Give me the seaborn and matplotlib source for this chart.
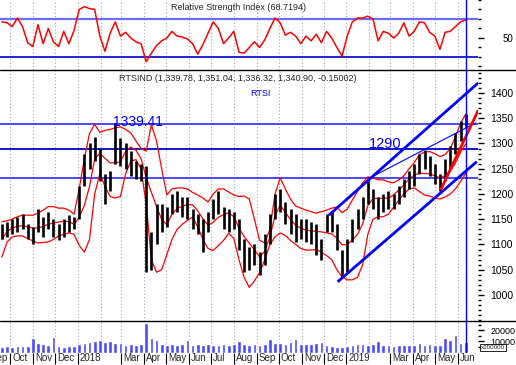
import pandas as pd
import matplotlib
matplotlib.use('Agg')
import matplotlib.pyplot as plt
from matplotlib.lines import Line2D
from matplotlib.ticker import FixedLocator, MultipleLocator
import seaborn as sns

sns.set_style('white')
plt.rcParams['font.family'] = ['Liberation Sans', 'DejaVu Sans']

# Weekly samples (RTSI, Sep 2017 - Jun 2019)
weeks = pd.date_range('2017-09-20', periods=91, freq='7D')

week_high = [1140, 1145, 1150, 1155, 1160, 1140, 1135, 1170, 1155, 1165,
             1150, 1140, 1150, 1158, 1155, 1215, 1280, 1300, 1312, 1290,
             1240, 1245, 1340, 1310, 1300, 1285, 1265, 1260, 1255, 1125,
             1180, 1180, 1175, 1200, 1205, 1195, 1195, 1170, 1160, 1150,
             1165, 1190, 1205, 1175, 1170, 1165, 1150, 1110, 1095, 1100,
             1085, 1120, 1160, 1200, 1210, 1185, 1170, 1160, 1150, 1150,
             1145, 1140, 1110, 1160, 1165, 1140, 1090, 1110, 1150, 1170,
             1195, 1230, 1210, 1195, 1200, 1205, 1200, 1215, 1230, 1245,
             1260, 1280, 1288, 1275, 1260, 1240, 1270, 1295, 1320, 1345, 1358]

week_low = [1110, 1115, 1120, 1125, 1130, 1110, 1100, 1125, 1115, 1130,
            1115, 1108, 1115, 1125, 1130, 1150, 1215, 1250, 1265, 1225,
            1180, 1205, 1260, 1255, 1250, 1235, 1230, 1225, 1045, 1050,
            1100, 1125, 1135, 1160, 1165, 1155, 1150, 1130, 1120, 1085,
            1125, 1150, 1160, 1130, 1125, 1130, 1090, 1045, 1050, 1060,
            1040, 1060, 1100, 1150, 1165, 1140, 1120, 1105, 1110, 1105,
            1100, 1080, 1070, 1125, 1125, 1090, 1035, 1045, 1105, 1130,
            1150, 1180, 1170, 1150, 1165, 1170, 1170, 1180, 1195, 1210,
            1215, 1240, 1250, 1235, 1220, 1205, 1225, 1250, 1280, 1305, 1330]

band_upper = [1145, 1147, 1150, 1155, 1158, 1158, 1158, 1162, 1168, 1175,
              1175, 1172, 1172, 1168, 1160, 1210, 1270, 1320, 1338, 1322,
              1326, 1328, 1331, 1333, 1328, 1321, 1305, 1290, 1285, 1337,
              1305, 1250, 1198, 1210, 1212, 1212, 1210, 1203, 1198, 1192,
              1184, 1200, 1210, 1210, 1204, 1198, 1195, 1196, 1190, 1150,
              1108, 1103, 1130, 1200, 1232, 1210, 1190, 1176, 1172, 1168,
              1165, 1162, 1165, 1168, 1172, 1174, 1163, 1170, 1188, 1205,
              1222, 1234, 1232, 1228, 1228, 1224, 1222, 1228, 1236, 1250,
              1262, 1278, 1283, 1284, 1280, 1274, 1278, 1290, 1313, 1340, 1358]

band_lower = [1075, 1105, 1115, 1117, 1117, 1112, 1107, 1103, 1104, 1105,
              1110, 1117, 1120, 1123, 1120, 1098, 1085, 1110, 1200, 1240,
              1215, 1195, 1192, 1195, 1240, 1265, 1268, 1250, 1180, 1070,
              1045, 1050, 1080, 1110, 1130, 1140, 1148, 1154, 1135, 1110,
              1092, 1088, 1098, 1108, 1122, 1112, 1070, 1035, 1015, 1028,
              1044, 1070, 1100, 1115, 1123, 1118, 1108, 1100, 1092, 1089,
              1089, 1090, 1085, 1078, 1070, 1050, 1036, 1030, 1030, 1035,
              1060, 1120, 1150, 1155, 1155, 1160, 1174, 1188, 1200, 1210,
              1212, 1205, 1198, 1196, 1192, 1190, 1194, 1200, 1210, 1225, 1240]

rsi = [67, 66, 62, 71, 62, 45, 41, 64, 44, 60,
       46, 41, 57, 44, 58, 80, 83, 81, 80, 52,
       36, 55, 67, 52, 56, 50, 46, 44, 25, 34,
       42, 47, 50, 57, 52, 51, 49, 44, 33, 43,
       55, 67, 60, 44, 50, 57, 35, 34, 40, 46,
       40, 48, 60, 71, 66, 53, 56, 52, 44, 52,
       47, 54, 45, 57, 50, 40, 31, 52, 67, 71,
       71, 73, 70, 47, 57, 55, 50, 55, 66, 52,
       57, 67, 66, 56, 52, 38, 56, 57, 62, 67, 69]

volume = [5000, 5500, 5000, 5500, 6000, 5500, 13500, 9000, 7500, 6500,
          14000, 6000, 5000, 5500, 6000, 8000, 8500, 9500, 10000, 11000,
          9500, 10500, 9000, 8500, 7000, 7500, 7000, 8000, 27000, 13500,
          11500, 7500, 7000, 7500, 7000, 8000, 11000, 7000, 7500, 6500,
          7500, 7000, 7000, 7500, 7000, 8000, 10000, 8000, 7000, 7500,
          7000, 7500, 12000, 9000, 8500, 8000, 9500, 12000, 8000, 7500,
          8000, 9000, 9500, 7000, 5500, 5000, 5000, 6000, 7000, 7500,
          8000, 7000, 8000, 10000, 7000, 6500, 6000, 6500, 7000, 6500,
          7000, 9000, 7000, 7500, 6500, 7000, 13500, 11000, 16000, 9000, 9500]

# levels and trend lines drawn on the chart
levels = [1339.41, 1290, 1232]
level_colors = ['#3a3aff', '#0000c8', '#3a3aff']
channel_top = (['2018-12-08', '2019-06-29'], [1158, 1420])
channel_bottom = (['2018-12-20', '2019-06-27'], [1026, 1264])
thin_line = (['2019-02-02', '2019-06-26'], [1232, 1341])
red_line = (['2019-05-09', '2019-06-29'], [1208, 1366])
cursor_date = pd.Timestamp('2019-06-13')

month_ticks = ['2017-09-01', '2017-10-01', '2017-11-01', '2017-12-01', '2018-01-01',
               '2018-03-01', '2018-04-01', '2018-05-01', '2018-06-01', '2018-07-01',
               '2018-08-01', '2018-09-01', '2018-10-01', '2018-11-01', '2018-12-01',
               '2019-01-01', '2019-03-01', '2019-04-01', '2019-05-01', '2019-06-01']
month_labels = ['Sep', 'Oct', 'Nov', 'Dec', '2018', 'Mar', 'Apr', 'May', 'Jun', 'Jul',
                'Aug', 'Sep', 'Oct', 'Nov', 'Dec', '2019', 'Mar', 'Apr', 'May', 'Jun']

df = pd.DataFrame({'date': weeks, 'high': week_high, 'low': week_low,
                   'upper': band_upper, 'lower': band_lower,
                   'rsi': rsi, 'volume': volume})
df['middle'] = (df['upper'] + df['lower']) / 2

W, H = 516, 365
fig = plt.figure(figsize=(W / 100, H / 100), dpi=100)
fig.patch.set_facecolor('white')


def box(top, bottom, right=478):
    return [0, (H - bottom) / H, right / W, (bottom - top) / H]


ax_rsi = fig.add_axes(box(0, 70))
ax_px = fig.add_axes(box(70, 321), sharex=ax_rsi)
ax_vol = fig.add_axes(box(321, 352.5), sharex=ax_rsi)
axes = [ax_rsi, ax_px, ax_vol]

xmin, xmax = pd.Timestamp('2017-09-17 10:00'), pd.Timestamp('2019-06-28 16:00')
grid_months = pd.date_range('2017-10-01', '2019-06-01', freq='MS')

for ax in axes:
    for s in ax.spines.values():
        s.set_visible(False)
    ax.set_facecolor('white')
    for m in grid_months:
        ax.axvline(m, color='#a8a8a8', lw=0.8, ls=(0, (1, 2)), zorder=0)
    ax.axvline(cursor_date, color='#0000ff', lw=1, zorder=5)
    ax.yaxis.tick_right()
    ax.tick_params(axis='y', which='major', length=4, width=1, pad=5, labelsize=6.5, colors='black')
    ax.tick_params(axis='y', which='minor', length=2.5, width=1, colors='black')
    ax.tick_params(axis='x', which='both', bottom=False, top=False, labelbottom=False)

# RSI panel
sns.lineplot(data=df, x='date', y='rsi', ax=ax_rsi, color='#ff0000', lw=1.1)
ax_rsi.axhline(70, color='#6a6aff', lw=1.6, zorder=1)
ax_rsi.axhline(30, color='#0000c8', lw=1.2, zorder=1)
ax_rsi.set_ylim(16.3, 90)
ax_rsi.yaxis.set_major_locator(FixedLocator([50]))
ax_rsi.yaxis.set_minor_locator(FixedLocator([20, 30, 40, 60, 70, 80, 90]))
ax_rsi.tick_params(axis='y', which='major', pad=14, labelsize=7)
ax_rsi.text(0.499, 0.886, 'Relative Strength Index (68.7194)', transform=ax_rsi.transAxes,
            ha='center', va='center', fontsize=6.5)

# price panel
for lvl, c in zip(levels, level_colors):
    ax_px.axhline(lvl, color=c, lw=1.3, zorder=1)
ax_px.vlines(df['date'], df['low'], df['high'], color='black', lw=1.9, zorder=3)
for col in ['upper', 'middle', 'lower']:
    sns.lineplot(data=df, x='date', y=col, ax=ax_px, color='#ff0000', lw=0.9, zorder=2)
for (d, p), c, lw in [(channel_top, '#0000ff', 2.0), (channel_bottom, '#0000ff', 2.0),
                      (thin_line, '#0000ff', 0.8), (red_line, '#ff0000', 2.0)]:
    ax_px.plot(pd.to_datetime(d), p, color=c, lw=lw, zorder=4, solid_capstyle='butt')
ax_px.set_ylim(948.5, 1445.5)
ax_px.yaxis.set_major_locator(MultipleLocator(50))
ax_px.yaxis.set_minor_locator(MultipleLocator(10))
ax_px.set_yticks(range(1000, 1401, 50))
ax_px.tick_params(axis='y', which='major', labelsize=7.5, pad=5)
ax_px.text(0.249, 0.966, 'RTSIND (1,339.78, 1,351.04, 1,336.32, 1,340.90, -0.15002)',
           transform=ax_px.transAxes, ha='left', va='center', fontsize=6.5)
ax_px.text(0.523, 0.906, 'RTSI', transform=ax_px.transAxes, ha='left', va='center',
           fontsize=6.5, color='#0000ff')
ax_px.text(pd.Timestamp('2018-02-18'), 1335, '1339.41', color='#0000ff', fontsize=10,
           ha='left', va='baseline')
ax_px.text(pd.Timestamp('2019-02-01'), 1291, '1290', color='#0000ff', fontsize=10.5,
           ha='left', va='baseline')

# volume panel
ax_vol.bar(df['date'], df['volume'], width=5, color='#4a4aff', zorder=2)
ax_vol.set_ylim(0, 28600)
ax_vol.yaxis.set_major_locator(FixedLocator([10000, 20000]))
ax_vol.yaxis.set_minor_locator(FixedLocator([5000, 15000, 25000]))
ax_vol.tick_params(axis='y', which='major', pad=5)
ax_vol.text(1.031, 0.15, 'x100000', transform=ax_vol.transAxes, ha='center', va='center',
            fontsize=4.5, zorder=10,
            bbox=dict(boxstyle='square,pad=0.15', fc='white', ec='black', lw=0.6))

ax_vol.set_xlim(xmin, xmax)
ticks = pd.to_datetime(month_ticks)
ax_vol.set_xticks(ticks)
ax_vol.tick_params(axis='x', which='major', bottom=True, length=8, width=0.8,
                   direction='out', labelbottom=False, colors='black')
for d, lab in zip(ticks, month_labels):
    ax_vol.text(d + pd.Timedelta(days=3), -0.19, lab, transform=ax_vol.get_xaxis_transform(),
                ha='left', va='center', fontsize=7)

for ax in axes:
    ax.set_xlabel('')
    ax.set_ylabel('')
    ax.set_xlim(xmin, xmax)

# panel separators across the full width
for y in [70, 321]:
    fig.add_artist(Line2D([0, 1], [(H - y) / H] * 2, color='black', lw=1))

fig.savefig('out.png', dpi=100)
